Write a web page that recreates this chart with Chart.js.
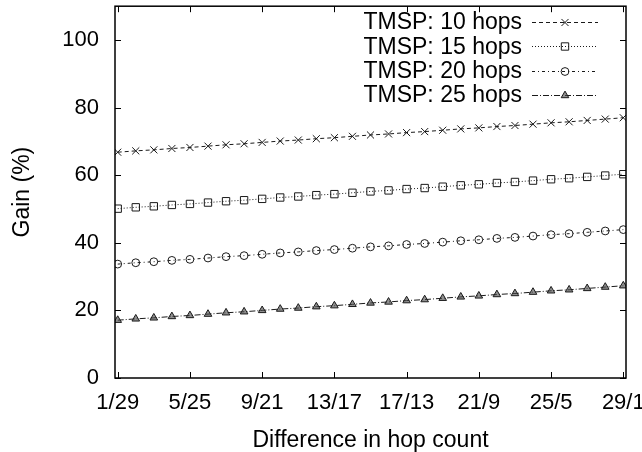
<!DOCTYPE html>
<html>
<head>
<meta charset="utf-8">
<script src="https://cdn.jsdelivr.net/npm/chart.js@4/dist/chart.umd.min.js"></script>
<style>
  html, body { margin: 0; padding: 0; background: #fff; }
  #c { display: block; }
</style>
</head>
<body>
<canvas id="c" width="642" height="452"></canvas>
<script>
const categories = ["1/29","2/28","3/27","4/26","5/25","6/24","7/23","8/22","9/21","10/20",
  "11/19","12/18","13/17","14/16","15/15","16/14","17/13","18/12","19/11","20/10",
  "21/9","22/8","23/7","24/6","25/5","26/4","27/3","28/2","29/1"];
const seriesNames = ["TMSP: 10 hops", "TMSP: 15 hops", "TMSP: 20 hops", "TMSP: 25 hops"];
const hops10 = [66.8,67.2,67.5,67.9,68.2,68.6,69.0,69.3,69.7,70.1,70.4,70.8,71.1,71.5,71.9,
  72.2,72.6,72.9,73.3,73.7,74.0,74.4,74.7,75.1,75.5,75.8,76.2,76.6,77.0];
const hops15 = [50.1,50.5,50.8,51.2,51.5,51.9,52.3,52.6,53.0,53.4,53.7,54.1,54.4,54.8,55.2,
  55.5,55.9,56.2,56.6,57.0,57.3,57.7,58.0,58.4,58.8,59.1,59.5,59.9,60.3];
const hops20 = [33.7,34.1,34.4,34.8,35.1,35.5,35.9,36.2,36.6,37.0,37.3,37.7,38.0,38.4,38.8,
  39.1,39.5,39.8,40.2,40.6,40.9,41.3,41.6,42.0,42.4,42.7,43.1,43.5,43.9];
const hops25 = [17.1,17.5,17.8,18.2,18.5,18.9,19.3,19.6,20.0,20.4,20.7,21.1,21.4,21.8,22.2,
  22.5,22.9,23.2,23.6,24.0,24.3,24.7,25.0,25.4,25.8,26.1,26.5,26.9,27.3];
const xTickIndices = [1,5,9,13,17,21,25,29];
const yTickValues = [0,20,40,60,80,100];

const FONT = "'Liberation Sans', Arial, Helvetica, sans-serif";
const LINE = '#1a1a1a';

function pts(arr) { return arr.map((v, i) => ({ x: i + 1, y: v })); }

const styles = [
  { dash: [4, 3], pointStyle: 'crossRot', radius: 5, bg: 'rgba(0,0,0,0)' },
  { dash: [1, 2], pointStyle: 'rect', radius: 5.2, bg: 'rgba(0,0,0,0)' },
  { dash: [3, 3, 1, 3], pointStyle: 'circle', radius: 3.9, bg: 'rgba(0,0,0,0)' },
  { dash: [6, 2, 1, 2], pointStyle: 'triangle', radius: 4.4, bg: 'rgba(70,70,70,0.6)' }
];
const allSeries = [hops10, hops15, hops20, hops25];

const datasets = allSeries.map((arr, k) => ({
  label: seriesNames[k],
  data: pts(arr),
  borderColor: LINE,
  borderWidth: 1,
  borderDash: styles[k].dash,
  pointStyle: styles[k].pointStyle,
  pointRadius: styles[k].radius,
  pointBorderColor: LINE,
  pointBorderWidth: 1,
  pointBackgroundColor: styles[k].bg,
  tension: 0,
  fill: false
}));

function zeroPad(scale) {
  scale.paddingTop = 0; scale.paddingBottom = 0;
  scale.paddingLeft = 0; scale.paddingRight = 0;
}

const framePlugin = {
  id: 'frame',
  afterDatasetsDraw(chart) {
    const { ctx, chartArea: a, scales } = chart;
    ctx.save();
    ctx.strokeStyle = '#000';
    ctx.lineWidth = 1;
    const tl = 6;
    ctx.beginPath();
    xTickIndices.forEach(v => {
      const x = Math.round(scales.x.getPixelForValue(v)) + 0.5;
      ctx.moveTo(x, a.bottom); ctx.lineTo(x, a.bottom - tl);
      ctx.moveTo(x, a.top); ctx.lineTo(x, a.top + tl);
    });
    yTickValues.forEach(v => {
      const y = Math.round(scales.y.getPixelForValue(v)) + 0.5;
      ctx.moveTo(a.left, y); ctx.lineTo(a.left + tl, y);
      ctx.moveTo(a.right, y); ctx.lineTo(a.right - tl, y);
    });
    ctx.stroke();
    ctx.lineWidth = 1.5;
    ctx.strokeRect(a.left, a.top, a.right - a.left, a.bottom - a.top);
    ctx.restore();
  }
};

const legendPlugin = {
  id: 'gpLegend',
  afterDraw(chart) {
    const { ctx } = chart;
    ctx.save();
    ctx.font = '23px ' + FONT;
    ctx.fillStyle = '#000';
    ctx.textAlign = 'right';
    ctx.textBaseline = 'middle';
    const textRight = 522, x0 = 532, x1 = 598, rowTop = 22, rowH = 24.3;
    chart.data.datasets.forEach((ds, k) => {
      const y = rowTop + k * rowH;
      ctx.fillStyle = '#000';
      ctx.fillText(ds.label, textRight, y + 1);
      ctx.strokeStyle = LINE;
      ctx.lineWidth = 1;
      ctx.setLineDash(ds.borderDash);
      ctx.beginPath();
      ctx.moveTo(x0, Math.round(y) + 0.5);
      ctx.lineTo(x1, Math.round(y) + 0.5);
      ctx.stroke();
      ctx.setLineDash([]);
      const opts = { pointStyle: ds.pointStyle, radius: ds.pointRadius, rotation: 0, borderWidth: 1 };
      ctx.fillStyle = ds.pointBackgroundColor;
      ctx.strokeStyle = LINE;
      if (Chart.helpers && Chart.helpers.drawPoint) {
        Chart.helpers.drawPoint(ctx, opts, (x0 + x1) / 2, Math.round(y) + 0.5);
      }
    });
    ctx.restore();
  }
};

new Chart(document.getElementById('c'), {
  type: 'line',
  data: { datasets },
  options: {
    responsive: false,
    animation: false,
    devicePixelRatio: 1,
    layout: { padding: { top: 6, right: 16, left: 0, bottom: 0 } },
    plugins: { legend: { display: false }, tooltip: { enabled: false } },
    scales: {
      x: {
        type: 'linear',
        min: 0.85,
        max: 29.15,
        grid: { display: false, drawTicks: false },
        border: { display: false },
        afterBuildTicks(scale) { scale.ticks = xTickIndices.map(v => ({ value: v })); },
        afterFit(scale) { scale.height = 74; zeroPad(scale); },
        ticks: {
          color: '#000',
          font: { family: FONT, size: 22 },
          padding: 12,
          maxRotation: 0,
          autoSkip: false,
          callback: (v) => categories[v - 1]
        },
        title: {
          display: true,
          text: 'Difference in hop count',
          color: '#000',
          font: { family: FONT, size: 23, lineHeight: 1.0 },
          padding: { top: 0, bottom: 0 }
        }
      },
      y: {
        min: 0,
        max: 110,
        grid: { display: false, drawTicks: false },
        border: { display: false },
        afterBuildTicks(scale) { scale.ticks = yTickValues.map(v => ({ value: v })); },
        afterFit(scale) { scale.width = 115; zeroPad(scale); },
        ticks: {
          color: '#000',
          font: { family: FONT, size: 22 },
          padding: 16,
          autoSkip: false
        },
        title: {
          display: true,
          text: 'Gain (%)',
          color: '#000',
          font: { family: FONT, size: 23 },
          padding: { top: 9, bottom: 0 }
        }
      }
    }
  },
  plugins: [framePlugin, legendPlugin]
});
</script>
</body>
</html>
